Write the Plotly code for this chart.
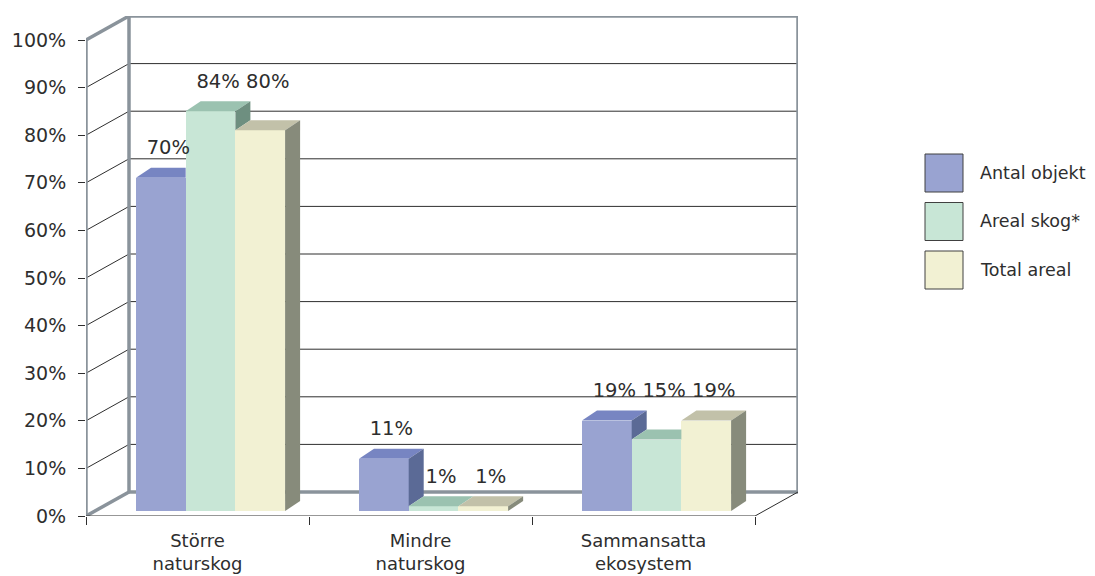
import plotly.graph_objects as go

# ---------------- data ----------------
categories = ["Större<br>naturskog", "Mindre<br>naturskog", "Sammansatta<br>ekosystem"]
series_names = ["Antal objekt", "Areal skog*", "Total areal"]
antal_objekt = [70, 11, 19]
areal_skog = [84, 1, 15]
total_areal = [80, 1, 19]
y_tick_vals = [0, 10, 20, 30, 40, 50, 60, 70, 80, 90, 100]
y_tick_text = [f"{v}%" for v in y_tick_vals]

series_values = [antal_objekt, areal_skog, total_areal]

# ---------------- styles ----------------
front_colors = ["#99A3D1", "#C8E6D6", "#F2F1D3"]
top_colors = ["#7785C2", "#9BC2B0", "#C2C1A9"]
side_colors = ["#5B6A96", "#6E8F80", "#878B7B"]
WALL = "#8A939B"
DARK = "#2E2E2E"
FONT = "DejaVu Sans"

# geometry (pixel-derived scale factors for the 3D look)
PX_X = 223.0      # px per category unit
PX_Y = 4.76       # px per percent
WALL_DX = 43 / PX_X
WALL_DY = 24 / PX_Y
BAR_DX = 15 / PX_X
BAR_DY = 10 / PX_Y
BASE = 5 / PX_Y
GROUP_OFF = 50 / PX_X
BAR_W = 49.7 / PX_X
NCAT = len(categories)
NSER = len(series_names)
XMAX = NCAT + WALL_DX
YMAX = 100 + WALL_DY

W, H = 1095, 576
ML, MT = 86, 16
PW = XMAX * PX_X
PH = YMAX * PX_Y
MR = W - ML - PW
MB = H - MT - PH

fig = go.Figure()

# front faces as bars
for j, name in enumerate(series_names):
    xs = [c + GROUP_OFF + (j + 0.5) * BAR_W for c in range(NCAT)]
    fig.add_trace(go.Bar(
        x=xs, y=series_values[j], base=BASE, width=BAR_W, name=name,
        marker=dict(color=front_colors[j], line=dict(width=0)),
        showlegend=False, hoverinfo="skip"))

# top and side faces
for c in range(NCAT):
    for j in range(NSER):
        v = series_values[j][c]
        l = c + GROUP_OFF + j * BAR_W
        r = l + BAR_W
        t = BASE + v
        tn = BASE + series_values[j + 1][c] if j + 1 < NSER else None
        # top face
        if tn is None or tn <= t:
            top = [(l, t), (r, t), (r + BAR_DX, t + BAR_DY), (l + BAR_DX, t + BAR_DY)]
        else:
            top = [(l, t), (r, t), (r, t + BAR_DY), (l + BAR_DX, t + BAR_DY)]
        fig.add_trace(go.Scatter(
            x=[p[0] for p in top] + [top[0][0]], y=[p[1] for p in top] + [top[0][1]],
            fill="toself", fillcolor=top_colors[j], mode="lines",
            line=dict(width=0, color=top_colors[j]), showlegend=False, hoverinfo="skip"))
        # side face
        side = None
        if tn is None:
            side = [(r, BASE), (r, t), (r + BAR_DX, t + BAR_DY), (r + BAR_DX, BASE + BAR_DY)]
        elif tn < t:
            side = [(r, tn), (r, t), (r + BAR_DX, t + BAR_DY), (r + BAR_DX, tn + BAR_DY)]
        if side:
            fig.add_trace(go.Scatter(
                x=[p[0] for p in side] + [side[0][0]], y=[p[1] for p in side] + [side[0][1]],
                fill="toself", fillcolor=side_colors[j], mode="lines",
                line=dict(width=0, color=side_colors[j]), showlegend=False, hoverinfo="skip"))

# data labels (neighbouring labels with close values share one line, as in the original)
def label_level(j, c):
    v = series_values[j][c]
    lvl = v
    for k in (j - 1, j + 1):
        if 0 <= k < NSER and abs(series_values[k][c] - v) <= 5:
            lvl = max(lvl, series_values[k][c])
    return lvl

for j in range(NSER):
    xs = [c + GROUP_OFF + (j + 0.5) * BAR_W + BAR_DX * 0.5 for c in range(NCAT)]
    ys = [BASE + label_level(j, c) + BAR_DY + 1.8 for c in range(NCAT)]
    fig.add_trace(go.Scatter(
        x=xs, y=ys, mode="text", text=[f"{v}%" for v in series_values[j]],
        textposition="top center", textfont=dict(family=FONT, size=19.5, color=DARK),
        showlegend=False, hoverinfo="skip", cliponaxis=False))

shapes = []
# back-wall gridlines and side-wall diagonals
for v in y_tick_vals[1:-1]:
    shapes.append(dict(type="line", xref="x", yref="y", x0=WALL_DX, x1=XMAX,
                       y0=v + WALL_DY, y1=v + WALL_DY, line=dict(color=DARK, width=1), layer="below"))
    shapes.append(dict(type="line", xref="x", yref="y", x0=0, x1=WALL_DX,
                       y0=v, y1=v + WALL_DY, line=dict(color=DARK, width=1), layer="below"))
# wall frame
frame = [
    (WALL_DX, WALL_DY, XMAX, WALL_DY),
    (WALL_DX, YMAX, XMAX, YMAX),
    (WALL_DX, WALL_DY, WALL_DX, YMAX),
    (XMAX, WALL_DY, XMAX, YMAX),
    (0, 0, 0, 100),
    (0, 100, WALL_DX, YMAX),
    (0, 0, WALL_DX, WALL_DY),
]
for x0, y0, x1, y1 in frame:
    shapes.append(dict(type="line", xref="x", yref="y", x0=x0, y0=y0, x1=x1, y1=y1,
                       line=dict(color=WALL, width=3.5), layer="below"))
# floor front edge and right diagonal
shapes.append(dict(type="line", xref="x", yref="y", x0=0, y0=0, x1=NCAT, y1=0,
                   line=dict(color=DARK, width=1), layer="below"))
shapes.append(dict(type="line", xref="x", yref="y", x0=NCAT, y0=0, x1=XMAX, y1=WALL_DY,
                   line=dict(color=DARK, width=1), layer="below"))

# legend (manual, large swatches)
def px_x(px):
    return (px - ML) / PW

def px_y(py):
    return (MT + PH - py) / PH

annotations = []
for j, name in enumerate(series_names):
    top_px = 154 + j * 48.5
    shapes.append(dict(type="rect", xref="paper", yref="paper",
                       x0=px_x(925), x1=px_x(963), y0=px_y(top_px + 38), y1=px_y(top_px),
                       fillcolor=front_colors[j], line=dict(color="#404040", width=1)))
    annotations.append(dict(xref="paper", yref="paper", x=px_x(978), y=px_y(top_px + 19),
                            text=name, showarrow=False, xanchor="left", yanchor="middle",
                            font=dict(family=FONT, size=17.5, color=DARK)))

fig.update_layout(
    width=W, height=H,
    margin=dict(l=ML, r=MR, t=MT, b=MB, pad=0),
    paper_bgcolor="white", plot_bgcolor="white",
    barmode="overlay", bargap=0,
    shapes=shapes, annotations=annotations,
    showlegend=False,
    font=dict(family=FONT, color=DARK),
    xaxis=dict(range=[0, XMAX], tickvals=[c + 0.5 for c in range(NCAT)], ticktext=categories,
               ticks="", showgrid=False, zeroline=False, showline=False,
               tickfont=dict(family=FONT, size=18, color=DARK),
               ticklabelstandoff=12, automargin=False,
               minor=dict(tickvals=list(range(NCAT + 1)), ticks="outside", ticklen=8,
                          tickcolor=DARK, tickwidth=1, showgrid=False),
               fixedrange=True),
    yaxis=dict(range=[0, YMAX], tickvals=y_tick_vals, ticktext=y_tick_text,
               ticks="outside", ticklen=7, tickcolor=DARK, tickwidth=1,
               showgrid=False, zeroline=False, showline=False,
               tickfont=dict(family=FONT, size=19, color=DARK),
               ticklabelstandoff=8, automargin=False, fixedrange=True),
)

fig.write_html("out.html", config={"displayModeBar": False},
               post_script="document.body.style.margin='0';document.body.style.overflow='hidden';")
